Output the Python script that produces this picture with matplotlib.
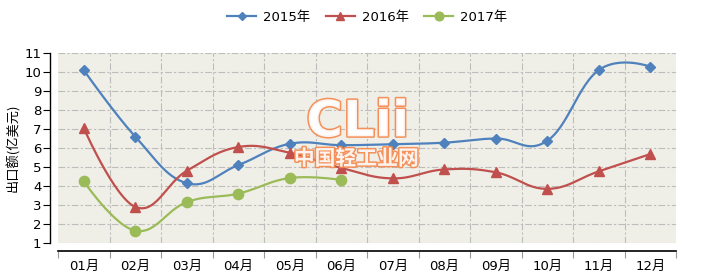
import numpy as np
import matplotlib as mpl; mpl.use("Agg")
import matplotlib.pyplot as plt
import matplotlib.patheffects as pe
from matplotlib.lines import Line2D

plt.rcParams["font.family"] = ["DejaVu Sans", "Noto Sans CJK SC"]

months = ["01月","02月","03月","04月","05月","06月","07月","08月","09月","10月","11月","12月"]
v2015 = [10.1, 6.6, 4.15, 5.1, 6.22, 6.15, 6.2, 6.28, 6.5, 6.38, 10.1, 10.28]
v2016 = [7.05, 2.9, 4.8, 6.05, 5.75, 4.95, 4.4, 4.87, 4.72, 3.85, 4.77, 5.68]
v2017 = [4.25, 1.65, 3.15, 3.6, 4.42, 4.32]
ylab = "出口额(亿美元)"

SERIES = [("2015年", v2015, "#4f81bd", "D", 5.2),
          ("2016年", v2016, "#c0504d", "^", 7.0),
          ("2017年", v2017, "#9bbb59", "o", 7.4)]

def spline(x, y, n=30):
    # highcharts-style spline (smoothing 1.5, no overshoot clamp)
    x = np.asarray(x, float); y = np.asarray(y, float); k = len(x)
    lc = np.c_[x, y].copy(); rc = np.c_[x, y].copy()
    for i in range(1, k-1):
        lx = (1.5*x[i]+x[i-1])/2.5; ly = (1.5*y[i]+y[i-1])/2.5
        rx = (1.5*x[i]+x[i+1])/2.5; ry = (1.5*y[i]+y[i+1])/2.5
        corr = (ry-ly)*(rx-x[i])/(rx-lx)+y[i]-ry
        lc[i] = (lx, ly+corr); rc[i] = (rx, ry+corr)
    t = np.linspace(0, 1, n)[:, None]
    out = []
    for i in range(k-1):
        p0 = np.array([x[i], y[i]]); p3 = np.array([x[i+1], y[i+1]])
        p1 = rc[i]; p2 = lc[i+1]
        seg = (1-t)**3*p0 + 3*(1-t)**2*t*p1 + 3*(1-t)*t**2*p2 + t**3*p3
        out.append(seg if i == 0 else seg[1:])
    out = np.vstack(out)
    return out[:, 0], out[:, 1]

fig = plt.figure(figsize=(7.2, 2.78), dpi=100)
ax = fig.add_axes([58/720, 35/278, 618/720, 190/278])
ax.set_facecolor("#efefe7")
ax.set_xlim(-0.5, 11.5); ax.set_ylim(1, 11)

for lab, vals, col, mk, ms in SERIES:
    xs = np.arange(len(vals))
    sx, sy = spline(xs, vals)
    ax.plot(sx, sy, color=col, lw=1.6, zorder=3, solid_capstyle="round")
    ax.plot(xs, vals, ls="none", marker=mk, ms=ms, color=col, mec=col, zorder=4)

grid = dict(color="#bdbdbd", lw=0.8, dashes=[6, 2, 2, 2], zorder=1)
for v in range(1, 12):
    ax.axhline(v, **grid)
for b in np.arange(0.5, 11.5, 1.0):
    ax.axvline(b, **grid)

ax.spines[["top", "right"]].set_visible(False)
ax.spines["left"].set_position(("outward", 6))
ax.spines["bottom"].set_position(("outward", 6))
ax.spines["left"].set_linewidth(1.0); ax.spines["bottom"].set_linewidth(1.2)
ax.set_yticks(range(1, 12))
ax.tick_params(axis="y", length=5, width=0.8, pad=1, labelsize=9.5, colors="#000000")
ax.set_xticks(np.arange(-0.5, 12, 1.0), minor=False)
ax.set_xticklabels([])
ax.set_xticks(np.arange(12), minor=True)
ax.set_xticklabels(months, minor=True, fontsize=9.5)
ax.tick_params(axis="x", which="major", length=5, width=0.8, color="#999999")
ax.tick_params(axis="x", which="minor", length=0, pad=6)
ax.set_ylabel(ylab, fontsize=9.5, family=["Noto Sans CJK SC"], labelpad=3)

# watermark
wm = [pe.withStroke(linewidth=2.2, foreground="#f5864a")]
fig.text(0.497, 0.56, "CLii", ha="center", va="center", fontsize=36, fontweight="bold",
         color="white", alpha=0.9, path_effects=wm, zorder=5)
fig.text(0.495, 0.43, "中国轻工业网", ha="center", va="center", fontsize=15, fontweight="bold",
         color="white", alpha=0.9, family=["Noto Sans CJK SC"], path_effects=wm, zorder=5)

handles = [Line2D([], [], color=c, marker=m, ms=ms*0.85, lw=1.6) for _, _, c, m, ms in SERIES]
fig.legend(handles, [s[0] for s in SERIES], loc="center", bbox_to_anchor=(0.51, 1-17/278),
           ncol=3, frameon=False, fontsize=9.5, handlelength=2.2, columnspacing=1.2, handletextpad=0.5)

fig.savefig("out.png", dpi=100)
